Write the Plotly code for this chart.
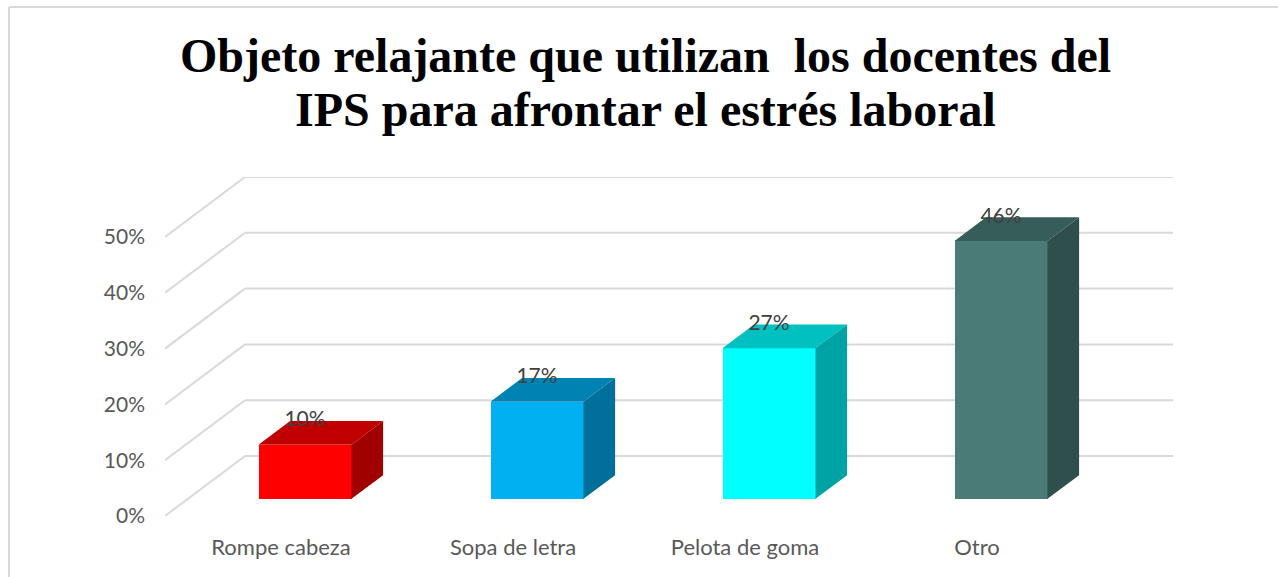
import plotly.graph_objects as go

title_lines = ["Objeto relajante que utilizan \u00a0los docentes del", "IPS para afrontar el estrés laboral"]
categories = ["Rompe cabeza", "Sopa de letra", "Pelota de goma", "Otro"]
values = [9.7, 17.4, 27.0, 46.2]
value_labels = ["10%", "17%", "27%", "46%"]
y_ticks = [0, 10, 20, 30, 40, 50]
y_tick_labels = ["0%", "10%", "20%", "30%", "40%", "50%"]
front_colors = ["#FF0000", "#00B0F0", "#00FFFF", "#4A7B76"]
top_colors = ["#C00000", "#0083B3", "#00C0C0", "#375D5A"]
side_colors = ["#A00000", "#006F9A", "#00A3A3", "#2F4F4C"]

W, H = 1278, 577
LH = 588         # layout height that comes out as the 577 px picture
X_UNIT = 232.0   # px per category
Y_UNIT = 5.58    # px per percent
WALL_DX = 80 / X_UNIT
WALL_DY = 60 / Y_UNIT
BAR_START = 0.30   # fraction of the depth before the bar's front
BAR_DEPTH = 0.395  # fraction of the depth the bar takes
BAR_WIDTH = 93 / X_UNIT
GRID = "#D9D9D9"
FONT = "Lato, Carlito, 'Open Sans', sans-serif"

xs = list(range(len(categories)))
fx = [x + BAR_START * WALL_DX for x in xs]
base = BAR_START * WALL_DY - 0.15
ddx, ddy = BAR_DEPTH * WALL_DX, BAR_DEPTH * WALL_DY

fig = go.Figure()
fig.add_trace(go.Bar(
    x=fx, y=values, base=base, width=BAR_WIDTH,
    marker=dict(color=front_colors, line=dict(width=0)),
    hoverinfo="skip", showlegend=False,
))

for cx, v, tc, sc in zip(fx, values, top_colors, side_colors):
    l, r = cx - BAR_WIDTH / 2, cx + BAR_WIDTH / 2
    b, t = base, base + v
    fig.add_trace(go.Scatter(
        x=[l, r, r + ddx, l + ddx, l], y=[t, t, t + ddy, t + ddy, t],
        mode="lines", fill="toself", fillcolor=tc, line=dict(width=0),
        hoverinfo="skip", showlegend=False))
    fig.add_trace(go.Scatter(
        x=[r, r + ddx, r + ddx, r, r], y=[b, b + ddy, t + ddy, t, b],
        mode="lines", fill="toself", fillcolor=sc, line=dict(width=0),
        hoverinfo="skip", showlegend=False))

fig.add_trace(go.Scatter(
    x=fx, y=[base + v + ddy for v in values], text=value_labels,
    mode="text", textposition="middle center",
    textfont=dict(family=FONT, size=21, color="#404040"),
    hoverinfo="skip", showlegend=False))

x0, x1 = -0.5, 3.5
shapes = []
for t in y_ticks:
    shapes.append(dict(type="line", xref="x", yref="y", layer="below",
                       x0=x0, y0=t, x1=x0 + WALL_DX, y1=t + WALL_DY,
                       line=dict(color=GRID, width=2)))
    shapes.append(dict(type="line", xref="x", yref="y", layer="below",
                       x0=x0 + WALL_DX, y0=t + WALL_DY, x1=x1 + WALL_DX, y1=t + WALL_DY,
                       line=dict(color=GRID, width=2)))
# outer frame of the chart (top and left edges)
shapes.append(dict(type="line", xref="paper", yref="paper", layer="below",
                   x0=9 / W, x1=1, y0=1 - 7 / H, y1=1 - 7 / H,
                   line=dict(color=GRID, width=2)))
shapes.append(dict(type="line", xref="paper", yref="paper", layer="below",
                   x0=9 / W, x1=9 / W, y0=-0.1, y1=1 - 7 / H,
                   line=dict(color=GRID, width=2)))

annotations = [
    dict(text=line, x=645 / W, y=1 - cy / H, xref="paper", yref="paper",
         xanchor="center", yanchor="middle", showarrow=False,
         font=dict(family="Liberation Serif", size=48, color="black", weight="bold"))
    for line, cy in zip(title_lines, [56, 110])
]

fig.update_layout(
    width=W, height=LH, autosize=False,
    margin=dict(l=0, r=0, t=0, b=0),
    paper_bgcolor="white", plot_bgcolor="rgba(0,0,0,0)",
    shapes=shapes, annotations=annotations, bargap=0,
    xaxis=dict(
        domain=[165 / W, 1173 / W], range=[x0, x0 + 1008 / X_UNIT],
        tickmode="array", tickvals=xs, ticktext=categories,
        showgrid=False, zeroline=False, showline=False, ticks="",
        ticklabelstandoff=16,
        tickfont=dict(family=FONT, size=22, color="#595959"),
    ),
    yaxis=dict(
        domain=[1 - 516 / H, 1 - 177 / H], range=[0, 339 / Y_UNIT],
        tickmode="array", tickvals=y_ticks, ticktext=y_tick_labels,
        showgrid=False, zeroline=False, showline=False, ticks="",
        ticklabelstandoff=19,
        tickfont=dict(family=FONT, size=21, color="#595959"),
    ),
)
fig.write_html("out.html", config=dict(displayModeBar=False),
               post_script="document.body.style.margin='0';document.documentElement.style.overflow='hidden';")
